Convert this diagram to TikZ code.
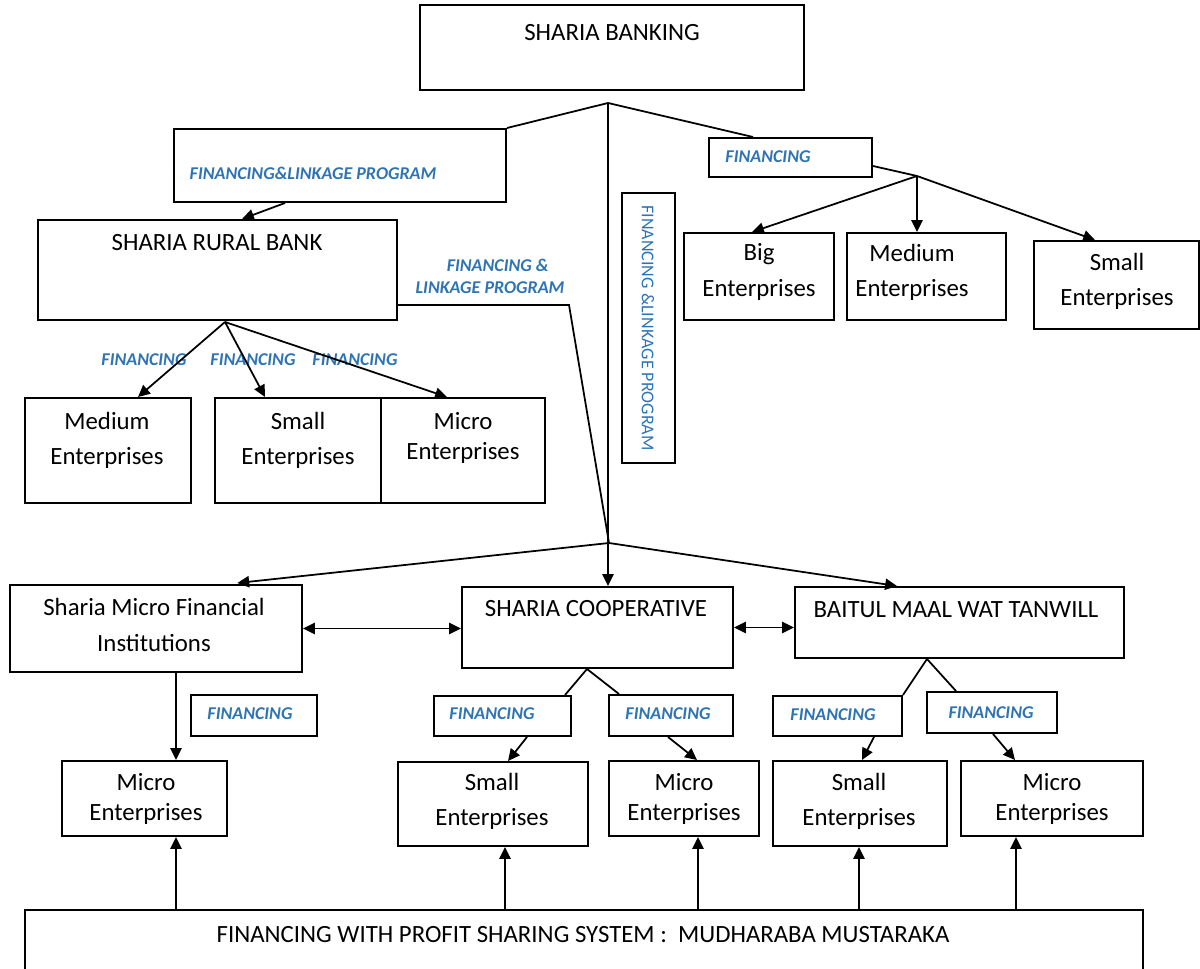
\documentclass[tikz,border=0pt]{standalone}
\usepackage{fontspec}
\setmainfont{Carlito}
\usetikzlibrary{arrows.meta,fit,calc}
\definecolor{finblue}{RGB}{46,116,181}

\begin{document}
\begin{tikzpicture}[x=0.016cm,y=-0.016cm,
    box/.style={draw,line width=0.9pt,inner sep=0pt},
    txt/.style={align=center,inner sep=0pt,font=\fontsize{11.3}{16}\selectfont},
    txtt/.style={align=center,inner sep=0pt,font=\fontsize{11.3}{13.5}\selectfont},
    finlbl/.style={inner sep=0pt,text=finblue,font=\fontsize{8.2}{10}\selectfont\bfseries\itshape},
    link/.style={line width=0.8pt},
    >={Triangle[length=1.9mm,width=1.8mm]}
]
\useasboundingbox (0,0) rectangle (1200,968);

\node[box,fit={(420,5) (804,90)}] (bank) {};
\node[txt] (bankT) at (612,33) {SHARIA BANKING};
\coordinate (j1) at (608,103);

\node[box,fit={(174,129) (506,202)}] (flp) {};
\node[finlbl] (flpT) at (313,173) {FINANCING\&LINKAGE PROGRAM};

\node[box,fit={(38,220) (397,320)}] (srb) {};
\node[txt] (srbT) at (217,243) {SHARIA RURAL BANK};
\node[finlbl,align=center] (srbL) at (490,276) {\hspace*{7pt}FINANCING \&\\LINKAGE PROGRAM};
\coordinate (srbJ) at (225,322);

\node[box,fit={(25,398) (191,503)}] (srbMed) {};
\node[txt] (srbMedT) at (107,440) {Medium\\Enterprises};
\node[box,fit={(215,398) (381,503)}] (srbSmall) {};
\node[txt] (srbSmallT) at (298,440) {Small\\Enterprises};
\node[box,fit={(381,398) (545,503)}] (srbMicro) {};
\node[txtt] (srbMicroT) at (463,438) {Micro\\Enterprises};
\foreach \x/\n in {144/a,253/b,355/c}
    \node[finlbl] (srbF\n) at (\x,360) {FINANCING};

\node[box,fit={(709,138) (872,177)}] (finR) {};
\node[finlbl] (finRT) at (768,157) {FINANCING};
\coordinate (j3) at (917,176);
\node[box,fit={(622,193) (675,463)}] (vlp) {};
\node[inner sep=0pt,text=finblue,font=\fontsize{8.2}{10}\selectfont,rotate=-90] (vlpT) at (648,328) {FINANCING \&LINKAGE PROGRAM};
\node[box,fit={(684,233) (834,320)}] (big) {};
\node[txt] (bigT) at (759,272) {Big\\Enterprises};
\node[box,fit={(847,233) (1006,320)}] (bankMed) {};
\node[txt] (bankMedT) at (912,272) {Medium\\Enterprises};
\node[box,fit={(1034,241) (1199,329)}] (bankSmall) {};
\node[txt] (bankSmallT) at (1117,281) {Small\\Enterprises};

\coordinate (j2) at (609,543);
\node[box,fit={(10,585) (302,672)}] (smfi) {};
\node[txt] (smfiT) at (154,625) {Sharia Micro Financial\\Institutions};
\node[box,fit={(462,587) (733,668)}] (coop) {};
\node[txt] (coopT) at (596,609) {SHARIA COOPERATIVE};
\node[box,fit={(795,587) (1124,658)}] (bmt) {};
\node[txt] (bmtT) at (956,610) {BAITUL MAAL WAT TANWILL};

\node[box,fit={(191,695) (317,736)}] (smfiF) {};
\node[finlbl] (smfiFT) at (250,714) {FINANCING};
\node[box,fit={(62,761) (227,836)}] (smfiMicro) {};
\node[txtt] (smfiMicroT) at (146,799) {Micro\\Enterprises};

\coordinate (j4) at (587,669);
\node[box,fit={(434,696) (571,736)}] (coopFL) {};
\node[finlbl] (coopFLT) at (492,714) {FINANCING};
\node[box,fit={(609,695) (733,736)}] (coopFR) {};
\node[finlbl] (coopFRT) at (668,714) {FINANCING};
\node[box,fit={(398,762) (588,846)}] (coopSmall) {};
\node[txt] (coopSmallT) at (492,801) {Small\\Enterprises};
\node[box,fit={(609,761) (759,836)}] (coopMicro) {};
\node[txtt] (coopMicroT) at (684,799) {Micro\\Enterprises};

\coordinate (j5) at (927,659);
\node[box,fit={(773,696) (902,736)}] (bmtFL) {};
\node[finlbl] (bmtFLT) at (833,715) {FINANCING};
\node[box,fit={(927,692) (1057,733)}] (bmtFR) {};
\node[finlbl] (bmtFRT) at (991,713) {FINANCING};
\node[box,fit={(773,761) (947,846)}] (bmtSmall) {};
\node[txt] (bmtSmallT) at (859,801) {Small\\Enterprises};
\node[box,fit={(961,761) (1143,836)}] (bmtMicro) {};
\node[txtt] (bmtMicroT) at (1052,799) {Micro\\Enterprises};

\node[box,fit={(25,910) (1143,990)}] (profit) {};
\node[txt] (profitT) at (583,935) {FINANCING WITH PROFIT SHARING SYSTEM :\ \ MUDHARABA MUSTARAKA};

\draw[link] (j1) -- (flp.north east);
\draw[link] (j1) -- (753,0 |- finR.north);
\draw[link,->] (j1) -- (j1 |- coop.north);
\draw[link,->] (285,0 |- flp.south) -- (242,0 |- srb.north);
\draw[link] (srb.east |- 0,305) -- (569,305) -- (j2);
\foreach \x/\n in {138/srbMed,265/srbSmall,447/srbMicro}
    \draw[link,->] (srbJ) -- (\x,0 |- \n.north);

\draw[link] (finR.east |- 0,166) -- (j3);
\draw[link,->] (j3) -- (752,0 |- big.north);
\draw[link,->] (j3) -- (j3 |- bankMed.north);
\draw[link,->] (j3) -- (1095,0 |- bankSmall.north);

\draw[link,->,shorten >=1.5mm] (j2) -- (228,0 |- smfi.north);
\draw[link,->] (j2) -- (897,0 |- bmt.north);
\draw[link,<->] (smfi.east) -- (smfi.east -| coop.west);
\draw[link,<->] (coop.east) -- (coop.east -| bmt.west);

\draw[link,->] (176,0 |- smfi.south) -- (176,0 |- smfiMicro.north);
\draw[link] (j4) -- (565,0 |- coopFL.north);
\draw[link] (j4) -- (619,0 |- coopFR.north);
\draw[link,->] (527,0 |- coopFL.south) -- (508,0 |- coopSmall.north);
\draw[link,->] (668,0 |- coopFR.south) -- (697,0 |- coopMicro.north);
\draw[link] (j5) -- (bmtFL.north east);
\draw[link] (j5) -- (956,0 |- bmtFR.north);
\draw[link,->] (874,0 |- bmtFL.south) -- (862,0 |- bmtSmall.north);
\draw[link,->] (993,0 |- bmtFR.south) -- (1015,0 |- bmtMicro.north);
\foreach \x/\n in {176/smfiMicro,505/coopSmall,698/coopMicro,859/bmtSmall,1016/bmtMicro}
    \draw[link,->] (\x,0 |- profit.north) -- (\x,0 |- \n.south);
\end{tikzpicture}
\end{document}
